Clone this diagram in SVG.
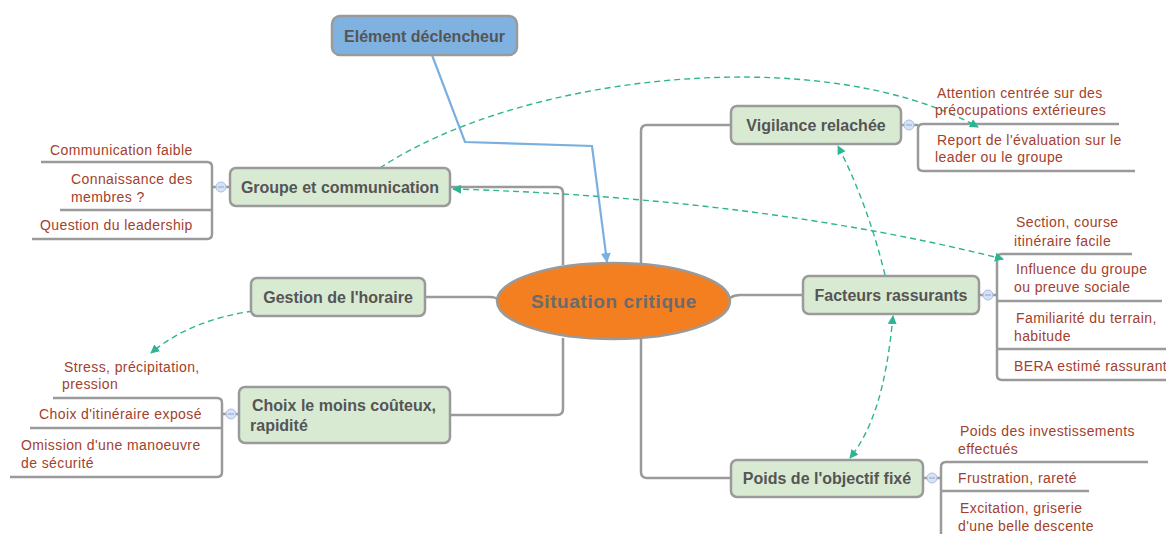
<svg xmlns="http://www.w3.org/2000/svg" width="1166" height="534" viewBox="0 0 1166 534">
<style>
.box{fill:#d9ead3;stroke:#9a9a9a;stroke-width:2.5}
.nt{font-family:"Liberation Sans",Arial,sans-serif;font-weight:bold;font-size:16px;fill:#555}
.st{font-family:"Liberation Sans",Arial,sans-serif;font-size:14px;letter-spacing:0.4px;fill:#a3412c}
.ln{fill:none;stroke:#9a9a9a;stroke-width:2.5}
.rel{fill:none;stroke:#2db592;stroke-width:1.4;stroke-dasharray:6 4}
.col{fill:#d6e3f6;stroke:#a8bfe3;stroke-width:1}
.cm{stroke:#8aa3cc;stroke-width:1}
</style>
<defs>
<marker id="ah" viewBox="0 0 10 10" refX="9" refY="5" markerWidth="9" markerHeight="9" markerUnits="userSpaceOnUse" orient="auto-start-reverse"><path d="M0,0 L10,5 L0,10 z" fill="#2db592"/></marker>
<marker id="ab" viewBox="0 0 10 10" refX="9" refY="5" markerWidth="10" markerHeight="10" markerUnits="userSpaceOnUse" orient="auto"><path d="M0,0 L10,5 L0,10 z" fill="#7ab0e0"/></marker>
</defs>
<rect width="1166" height="534" fill="#fff"/>
<g id="connectors">
<path class="ln" d="M563,265 V193 Q563,187 557,187 H450"/>
<path class="ln" d="M425,297 H490 Q496,297 498,300"/>
<path class="ln" d="M563,338 V409 Q563,415 557,415 H450"/>
<path class="ln" d="M641,264 V131 Q641,125 647,125 H731"/>
<path class="ln" d="M730,298 Q734,295 740,295 H803"/>
<path class="ln" d="M641,338 V472 Q641,478 647,478 H731"/>
<path class="ln" d="M41,162 H207 Q212,162 212,167 V234 Q212,239 207,239 H32 M60,210 H212 M212,187 H230"/>
<path class="ln" d="M53,398 H217 Q222,398 222,403 V472 Q222,477 217,477 H10 M30,428 H222 M222,414 H239"/>
<path class="ln" d="M1119,124 H923 Q918,124 918,129 V166 Q918,171 923,171 H1135 M901,125 H918"/>
<path class="ln" d="M1132,254 H1002 Q997,254 997,259 V375 Q997,380 1002,380 H1166 M997,301 H1162 M997,349 H1166 M979,295 H997"/>
<path class="ln" d="M1148,462 H946 Q941,462 941,467 V534 M941,491 H1089 M923,478 H941"/>
<path fill="none" stroke="#7ab0e0" stroke-width="2.2" d="M432,55 L465,142 L592,146 L607,262" marker-end="url(#ab)"/>
<path class="rel" d="M380,168 C520,75 820,40 978,127" marker-end="url(#ah)"/>
<path class="rel" d="M453,189 Q760,198 1003,259" marker-start="url(#ah)" marker-end="url(#ah)"/>
<path class="rel" d="M885,275 Q868,205 838,146" marker-end="url(#ah)"/>
<path class="rel" d="M893,316 C886,390 872,430 850,458" marker-start="url(#ah)" marker-end="url(#ah)"/>
<path class="rel" d="M253,311 Q190,320 151,353" marker-end="url(#ah)"/>
<g>
<circle class="col" cx="221" cy="187" r="5"/><path class="cm" d="M218,187 H224"/>
<circle class="col" cx="231" cy="414" r="5"/><path class="cm" d="M228,414 H234"/>
<circle class="col" cx="909" cy="125" r="5"/><path class="cm" d="M906,125 H912"/>
<circle class="col" cx="988" cy="295" r="5"/><path class="cm" d="M985,295 H991"/>
<circle class="col" cx="932" cy="478" r="5"/><path class="cm" d="M929,478 H935"/>
</g>
</g>
<g id="n-element">
<rect x="332" y="16" width="185" height="39" rx="8" fill="#7fb2e0" stroke="#9a9a9a" stroke-width="2.5"/>
<text class="nt" x="424.5" y="41.5" text-anchor="middle">Elément déclencheur</text>
</g>
<g id="n-center">
<ellipse cx="613.5" cy="301" rx="116.5" ry="38" fill="#f47f20" stroke="#9a9a9a" stroke-width="2.5"/>
<text x="614" y="308" text-anchor="middle" font-family="Liberation Sans,Arial,sans-serif" font-weight="bold" font-size="19" letter-spacing="0.6" fill="#6b6b6b">Situation critique</text>
</g>
<g id="n-groupe">
<rect class="box" x="230" y="168" width="220" height="38" rx="6"/>
<text class="nt" x="340" y="192.5" text-anchor="middle">Groupe et communication</text>
</g>
<g id="n-gestion">
<rect class="box" x="251" y="278" width="174" height="38" rx="6"/>
<text class="nt" x="338" y="302.5" text-anchor="middle">Gestion de l'horaire</text>
</g>
<g id="n-choix">
<rect class="box" x="239" y="387" width="211" height="56" rx="6"/>
<text class="nt" x="252" y="411">Choix le moins coûteux,</text>
<text class="nt" x="250" y="431">rapidité</text>
</g>
<g id="n-vigilance">
<rect class="box" x="731" y="106" width="170" height="38" rx="6"/>
<text class="nt" x="816" y="130.5" text-anchor="middle">Vigilance relachée</text>
</g>
<g id="n-facteurs">
<rect class="box" x="803" y="276" width="176" height="38" rx="6"/>
<text class="nt" x="891" y="300.5" text-anchor="middle">Facteurs rassurants</text>
</g>
<g id="n-poids">
<rect class="box" x="731" y="460" width="192" height="37" rx="6"/>
<text class="nt" x="827" y="484" text-anchor="middle">Poids de l'objectif fixé</text>
</g>
<g id="sub-groupe">
<text class="st" x="50" y="155">Communication faible</text>
<text class="st" x="71" y="184">Connaissance des</text>
<text class="st" x="71" y="202">membres ?</text>
<text class="st" x="40" y="230">Question du leadership</text>
</g>
<g id="sub-choix">
<text class="st" x="64" y="372">Stress, précipitation,</text>
<text class="st" x="62" y="389">pression</text>
<text class="st" x="39" y="419">Choix d'itinéraire exposé</text>
<text class="st" x="21" y="450">Omission d'une manoeuvre</text>
<text class="st" x="21" y="468">de sécurité</text>
</g>
<g id="sub-vigilance">
<text class="st" x="937" y="98">Attention centrée sur des</text>
<text class="st" x="935" y="115">préocupations extérieures</text>
<text class="st" x="937" y="145">Report de l'évaluation sur le</text>
<text class="st" x="935" y="162">leader ou le groupe</text>
</g>
<g id="sub-facteurs">
<text class="st" x="1016" y="227">Section, course</text>
<text class="st" x="1014" y="246">itinéraire facile</text>
<text class="st" x="1016" y="274">Influence du groupe</text>
<text class="st" x="1014" y="292">ou preuve sociale</text>
<text class="st" x="1016" y="323">Familiarité du terrain,</text>
<text class="st" x="1014" y="341">habitude</text>
<text class="st" x="1014" y="371">BERA estimé rassurant</text>
</g>
<g id="sub-poids">
<text class="st" x="960" y="436">Poids des investissements</text>
<text class="st" x="958" y="454">effectués</text>
<text class="st" x="958" y="483">Frustration, rareté</text>
<text class="st" x="960" y="513">Excitation, griserie</text>
<text class="st" x="958" y="531">d'une belle descente</text>
</g>
</svg>
